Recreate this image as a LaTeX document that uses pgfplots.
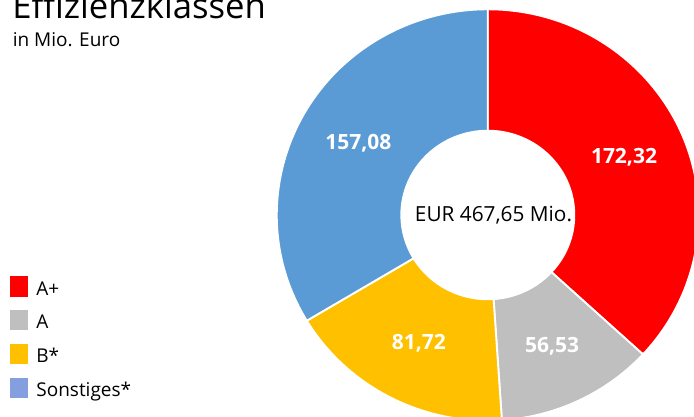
\documentclass[border=0pt]{standalone}
\usepackage{pgfplots}
\pgfplotsset{compat=1.18}
\usepackage{pgfplotstable}
\usepackage{fontspec}
\setmainfont{Open Sans}
\definecolor{cRed}{RGB}{255,0,0}
\definecolor{cGray}{RGB}{191,191,191}
\definecolor{cYel}{RGB}{255,192,0}
\definecolor{cBlue}{RGB}{91,155,213}
\definecolor{cLeg}{RGB}{133,158,224}

\pgfplotstableread{
label value
A+ 172.32
A 56.53
B* 81.72
Sonstiges* 157.08
}\donut

\pgfkeys{/pgf/number format/.cd, assume math mode=true, use comma, fixed, fixed zerofill, precision=2}

% geometry (pixel units of the axis) and radii in pt (1px = 0.75pt)
\def\cx{487.8}
\def\cy{202}
\def\Rx{211}\def\Ry{205.7}
\def\rx{86.5}\def\ry{84.3}
\def\mx{148.75}\def\my{145}

\newcommand\slice[3]{%
  \fill[#1, draw=white, line width=1.4pt]
    (axis cs:{\cx+\Rx*cos(#2)},{\cy+\Ry*sin(#2)})
    arc[start angle=#2, end angle=#3, x radius=158.25pt, y radius=154.28pt]
    -- (axis cs:{\cx+\rx*cos(#3)},{\cy+\ry*sin(#3)})
    arc[start angle=#3, end angle=#2, x radius=64.88pt, y radius=63.23pt]
    -- cycle;}

\begin{document}%
\begin{tikzpicture}
\pgfplotstablegetelem{0}{value}\of\donut \let\vA\pgfplotsretval
\pgfplotstablegetelem{1}{value}\of\donut \let\vB\pgfplotsretval
\pgfplotstablegetelem{2}{value}\of\donut \let\vC\pgfplotsretval
\pgfplotstablegetelem{3}{value}\of\donut \let\vD\pgfplotsretval
\pgfmathsetmacro\tot{\vA+\vB+\vC+\vD}
\pgfmathsetmacro\aA{90}
\pgfmathsetmacro\aB{\aA-360*(\vA/\tot)}
\pgfmathsetmacro\aC{\aB-360*(\vB/\tot)}
\pgfmathsetmacro\aD{\aC-360*(\vC/\tot)}
\pgfmathsetmacro\aE{\aD-360*(\vD/\tot)}
\pgfmathsetmacro\mA{(\aA+\aB)/2}
\pgfmathsetmacro\mB{(\aB+\aC)/2}
\pgfmathsetmacro\mC{(\aC+\aD)/2}
\pgfmathsetmacro\mD{(\aD+\aE)/2}
\useasboundingbox (0,0) rectangle (520.5pt,312.75pt);
\clip (0,0) rectangle (520.5pt,312.75pt);
\begin{axis}[
  at={(0,0)}, anchor=south west,
  scale only axis, width=520.5pt, height=312.75pt,
  xmin=0, xmax=694, ymin=0, ymax=417,
  hide axis, clip=false,
  legend cell align=left,
  legend image code/.code={\fill[#1, draw=none] (0pt,-5.6pt) rectangle (13.3pt,9.6pt);},
  legend style={at={(axis cs:10,140.5)}, anchor=north west, draw=none, fill=none,
    inner sep=0pt, outer sep=0pt, row sep=9.8pt, column sep=6.5pt,
    font=\fontsize{14.25pt}{17pt}\selectfont,
    nodes={inner sep=0pt}},
]
\slice{cRed}{\aA}{\aB}
\slice{cGray}{\aB}{\aC}
\slice{cYel}{\aC}{\aD}
\slice{cBlue}{\aD}{\aE}

\node[white, font=\fontsize{15.75pt}{18pt}\selectfont\bfseries] at (axis cs:{\cx+\mx*cos(\mA)},{\cy+\my*sin(\mA)}) {\pgfmathprintnumber{\vA}};
\node[white, font=\fontsize{15.75pt}{18pt}\selectfont\bfseries] at (axis cs:{\cx+\mx*cos(\mB)},{\cy+\my*sin(\mB)}) {\pgfmathprintnumber{\vB}};
\node[white, font=\fontsize{15.75pt}{18pt}\selectfont\bfseries] at (axis cs:{\cx+\mx*cos(\mC)},{\cy+\my*sin(\mC)}) {\pgfmathprintnumber{\vC}};
\node[white, font=\fontsize{15.75pt}{18pt}\selectfont\bfseries] at (axis cs:{\cx+\mx*cos(\mD)},{\cy+\my*sin(\mD)}) {\pgfmathprintnumber{\vD}};

\node[black, font=\fontsize{15.6pt}{18pt}\selectfont] at (axis cs:493.5,202) {EUR \pgfmathprintnumber{\tot} Mio.};

\node[anchor=base west, inner sep=0pt, font=\fontsize{26pt}{30pt}\selectfont] at (axis cs:12,398.5) {Effizienzklassen};
\node[anchor=base west, inner sep=0pt, font=\fontsize{14.25pt}{17pt}\selectfont] at (axis cs:12.5,370.3) {in Mio. Euro};

\addlegendimage{fill=cRed}\addlegendentry{A+}
\addlegendimage{fill=cGray}\addlegendentry{A}
\addlegendimage{fill=cYel}\addlegendentry{B*}
\addlegendimage{fill=cLeg}\addlegendentry{Sonstiges*}
\end{axis}
\end{tikzpicture}%
\end{document}
